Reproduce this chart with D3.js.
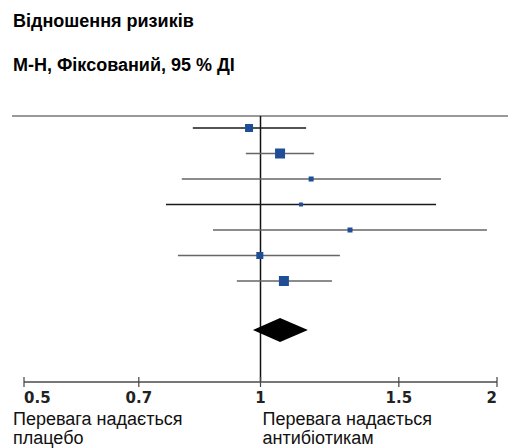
<!DOCTYPE html>
<html lang="uk">
<head>
    <meta charset="UTF-8">
    <title>Відношення ризиків</title>
    <script src="https://d3js.org/d3.v7.min.js"></script>
    <style>
        body { margin: 0; background: #fff; }
        svg { font-family: Arial, "Liberation Sans", sans-serif; }
        .title { font-size: 18px; font-weight: bold; }
        .tick-label { font-family: "DejaVu Sans", sans-serif; font-size: 15px; font-weight: bold; fill: #222; }
        .side-label { font-size: 18px; fill: #111; }
    </style>
</head>
<body>
    <div id="chart"></div>
    <script>
        // studies: risk ratio, lower and upper 95% CI, box size (weight)
        const studies = ["1", "2", "3", "4", "5", "6", "7"];
        const rr =    [0.967, 1.059, 1.160, 1.126, 1.300, 0.998, 1.071];
        const lower = [0.820, 0.958, 0.794, 0.758, 0.870, 0.785, 0.933];
        const upper = [1.143, 1.170, 1.697, 1.673, 1.942, 1.262, 1.233];
        const weight = [8, 10, 5, 4, 5, 7, 10];
        const lineDark = [true, false, false, true, false, false, false];

        // pooled estimate
        const pooled = {rr: 1.059, lower: 0.978, upper: 1.149};

        const tickValues = [0.5, 0.7, 1, 1.5, 2];
        const tickText = ["0.5", "0.7", "1", "1.5", "2"];

        const width = 508, height = 448;
        const svg = d3.select("#chart").append("svg")
            .attr("width", width)
            .attr("height", height);

        svg.append("text").attr("class", "title").attr("x", 13).attr("y", 27).text("Відношення ризиків");
        svg.append("text").attr("class", "title").attr("x", 13).attr("y", 71).text("М-Н, Фіксований, 95 % ДІ");

        const x = d3.scaleLog().domain([0.5, 2]).range([24, 497]);
        const y = d3.scalePoint().domain(studies).range([128, 281]);
        const topY = 116, axisY = 382, pooledY = 330;

        // top rule
        svg.append("line").attr("x1", 12).attr("x2", width).attr("y1", topY).attr("y2", topY)
            .attr("stroke", "#777").attr("stroke-width", 1.5);

        // line of no effect
        svg.append("line").attr("x1", x(1)).attr("x2", x(1)).attr("y1", topY).attr("y2", axisY)
            .attr("stroke", "#111").attr("stroke-width", 1.5);

        // confidence intervals
        svg.selectAll(".ci").data(studies).enter().append("line")
            .attr("class", "ci")
            .attr("x1", (d, i) => x(lower[i]))
            .attr("x2", (d, i) => x(upper[i]))
            .attr("y1", d => y(d)).attr("y2", d => y(d))
            .attr("stroke", (d, i) => lineDark[i] ? "#1a1a1a" : "#666")
            .attr("stroke-width", 1.5);

        // point estimates
        svg.selectAll(".box").data(studies).enter().append("rect")
            .attr("class", "box")
            .attr("x", (d, i) => x(rr[i]) - weight[i] / 2)
            .attr("y", (d, i) => y(d) - weight[i] / 2)
            .attr("width", (d, i) => weight[i])
            .attr("height", (d, i) => weight[i])
            .attr("fill", "#1f4e96");

        // pooled diamond
        const dh = 12;
        svg.append("path")
            .attr("d", `M${x(pooled.lower)},${pooledY} L${x(pooled.rr)},${pooledY - dh} L${x(pooled.upper)},${pooledY} L${x(pooled.rr)},${pooledY + dh} Z`)
            .attr("fill", "#000");

        // axis
        const axis = svg.append("g").attr("transform", `translate(0,${axisY})`);
        axis.append("line").attr("x1", x(0.5)).attr("x2", x(2)).attr("y1", 0).attr("y2", 0)
            .attr("stroke", "#777").attr("stroke-width", 2);
        axis.selectAll(".tk").data(tickValues).enter().append("line")
            .attr("x1", d => x(d)).attr("x2", d => x(d))
            .attr("y1", -5).attr("y2", 5)
            .attr("stroke", "#444").attr("stroke-width", 1.2);
        axis.selectAll(".tick-label").data(tickValues).enter().append("text")
            .attr("class", "tick-label")
            .attr("x", d => x(d))
            .attr("y", 21)
            .attr("text-anchor", (d, i) => i === 0 ? "start" : (i === tickValues.length - 1 ? "end" : "middle"))
            .text((d, i) => tickText[i]);

        // direction labels
        const left = svg.append("text").attr("class", "side-label").attr("x", 13).attr("y", 425);
        left.append("tspan").attr("x", 13).text("Перевага надається");
        left.append("tspan").attr("x", 13).attr("dy", 19).text("плацебо");
        const right = svg.append("text").attr("class", "side-label").attr("x", x(1) + 2).attr("y", 425);
        right.append("tspan").attr("x", x(1) + 2).text("Перевага надається");
        right.append("tspan").attr("x", x(1) + 2).attr("dy", 19).text("антибіотикам");
    </script>
</body>
</html>
